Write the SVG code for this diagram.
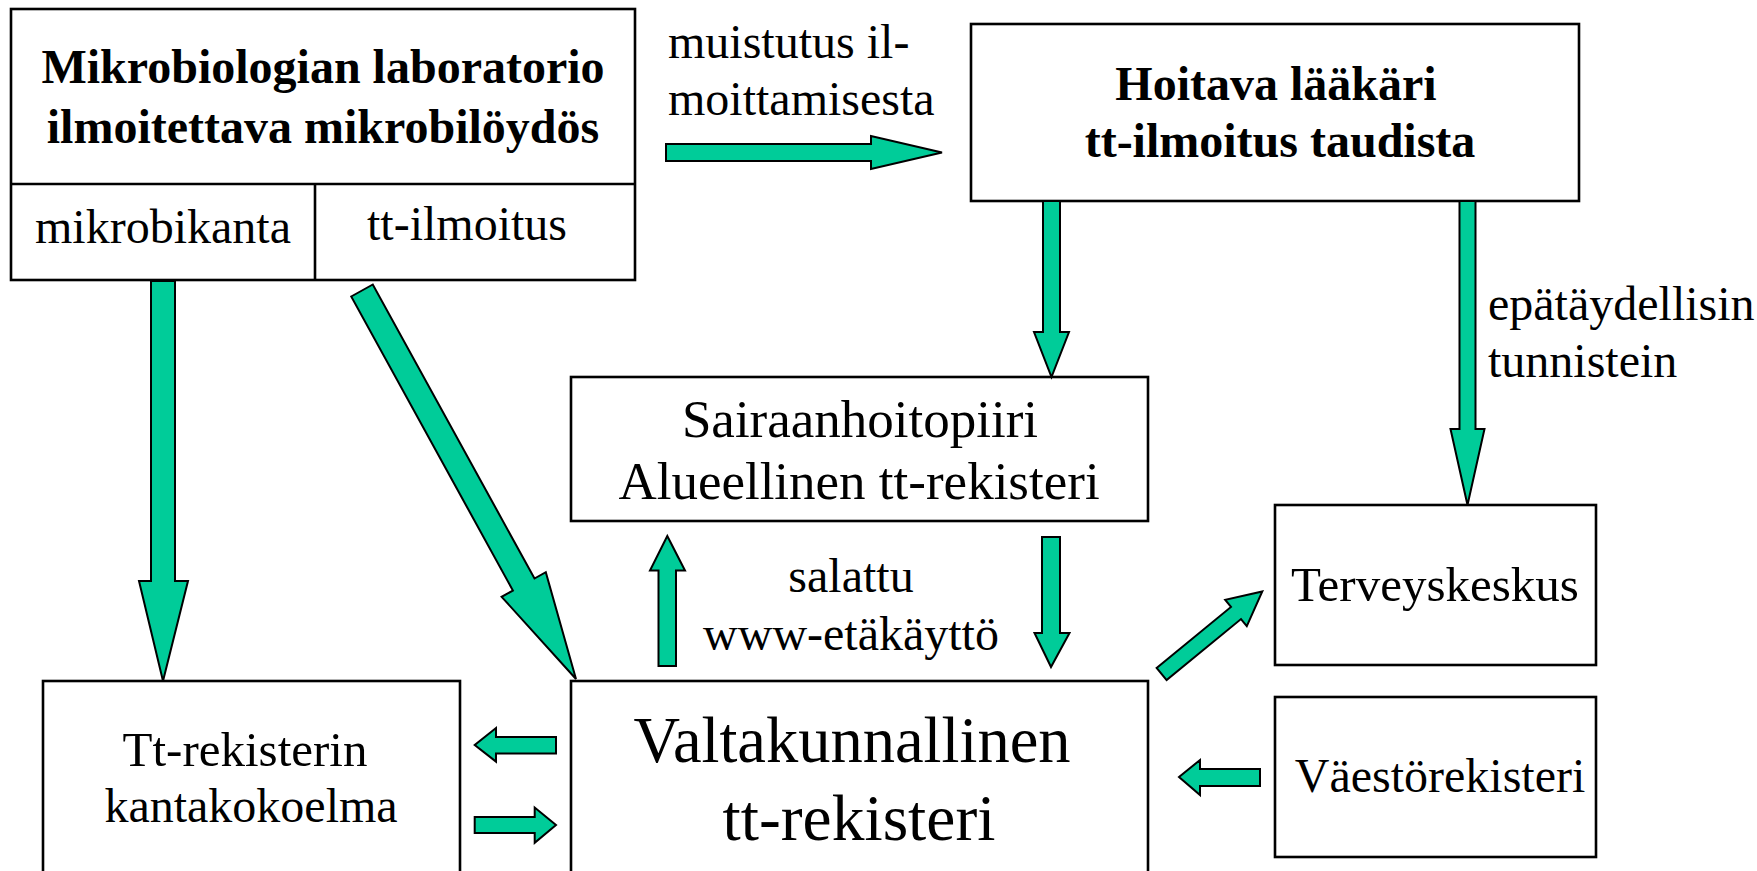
<svg xmlns="http://www.w3.org/2000/svg" width="1757" height="871" viewBox="0 0 1757 871">
<style>
.box{fill:#ffffff;stroke:#000000;stroke-width:2.6}
.ln{fill:none;stroke:#000000;stroke-width:2.6}
.arr{fill:#00cc99;stroke:#000000;stroke-width:2;stroke-linejoin:miter}
.t{font-family:"Liberation Serif","Times New Roman",serif;font-size:48px;fill:#000000}
.c{text-anchor:middle}
.b{font-weight:bold}
.mid{font-size:53px}
.big{font-size:64.5px}
</style>
<rect x="0" y="0" width="1757" height="871" fill="#ffffff"/>
<g id="lab">
<rect class="box" x="11" y="9" width="624" height="271"/>
<line class="ln" x1="11" y1="184" x2="635" y2="184"/>
<line class="ln" x1="315" y1="184" x2="315" y2="280"/>
<text class="t c b" x="323" y="83">Mikrobiologian laboratorio</text>
<text class="t c b" x="323" y="143">ilmoitettava mikrobilöydös</text>
<text class="t c" x="163" y="243">mikrobikanta</text>
<text class="t c" x="467" y="240">tt-ilmoitus</text>
</g>
<g id="hoitava">
<rect class="box" x="971" y="24" width="608" height="177"/>
<text class="t c b" x="1276" y="100">Hoitava lääkäri</text>
<text class="t c b" x="1280" y="157">tt-ilmoitus taudista</text>
</g>
<g id="sairaanhoitopiiri">
<rect class="box" x="571" y="377" width="577" height="144"/>
<text class="t c mid" x="860" y="437">Sairaanhoitopiiri</text>
<text class="t c mid" x="859" y="499">Alueellinen tt-rekisteri</text>
</g>
<g id="terveyskeskus">
<rect class="box" x="1275" y="505" width="321" height="160"/>
<text class="t c" x="1435" y="601" style="font-size:49px">Terveyskeskus</text>
</g>
<g id="vaestorekisteri">
<rect class="box" x="1275" y="697" width="321" height="160"/>
<text class="t c" x="1440" y="792">Väestörekisteri</text>
</g>
<g id="kantakokoelma">
<rect class="box" x="43" y="681" width="417" height="200"/>
<text class="t c" x="245" y="766" style="font-size:49px">Tt-rekisterin</text>
<text class="t c" x="251" y="822">kantakokoelma</text>
</g>
<g id="valtakunnallinen">
<rect class="box" x="571" y="681" width="577" height="200"/>
<text class="t c big" x="852" y="762">Valtakunnallinen</text>
<text class="t c big" x="859" y="840" style="font-size:65.5px">tt-rekisteri</text>
</g>
<g id="labels">
<text class="t" x="668" y="58">muistutus il-</text>
<text class="t" x="668" y="115">moittamisesta</text>
<text class="t" x="1488" y="320">epätäydellisin</text>
<text class="t" x="1488" y="377">tunnistein</text>
<text class="t c" x="851" y="592">salattu</text>
<text class="t c" x="851" y="650">www-etäkäyttö</text>
</g>
<g id="connectors">
<polygon class="arr" points="666,144 871,144 871,136 942,152.5 871,169 871,161 666,161"/>
<polygon class="arr" points="1043,201 1060,201 1060,332 1069,332 1051.5,377 1034,332 1043,332"/>
<polygon class="arr" points="1459.5,201 1475.5,201 1475.5,429 1484.5,429 1467.5,505 1450.5,429 1459.5,429"/>
<polygon class="arr" points="151,281 175,281 175,581 188,581 163,681 139,581 151,581"/>
<polygon class="arr" points="351.2,296.5 372.8,284.5 534.5,578.5 545.8,572.2 576,679 501.6,596.8 512.9,590.5"/>
<polygon class="arr" points="658.5,666 676,666 676,570.5 685,570.5 667.3,536 650,570.5 658.5,570.5"/>
<polygon class="arr" points="1042,537 1060,537 1060,633 1069.5,633 1051,667 1034.5,633 1042,633"/>
<polygon class="arr" points="556,737 496,737 496,728 474.7,745 496,761.6 496,753.5 556,753.5"/>
<polygon class="arr" points="474.7,817 534.7,817 534.7,807.5 556,825 534.7,842.8 534.7,833 474.7,833"/>
<polygon class="arr" points="1260,769 1200,769 1200,760 1179,777 1200,795 1200,786 1260,786"/>
<polygon class="arr" points="1156.6,667.9 1231,606.9 1225.2,599.8 1262.3,591.5 1246.8,626.2 1241,619.1 1166.6,680.1"/>
</g>
</svg>
